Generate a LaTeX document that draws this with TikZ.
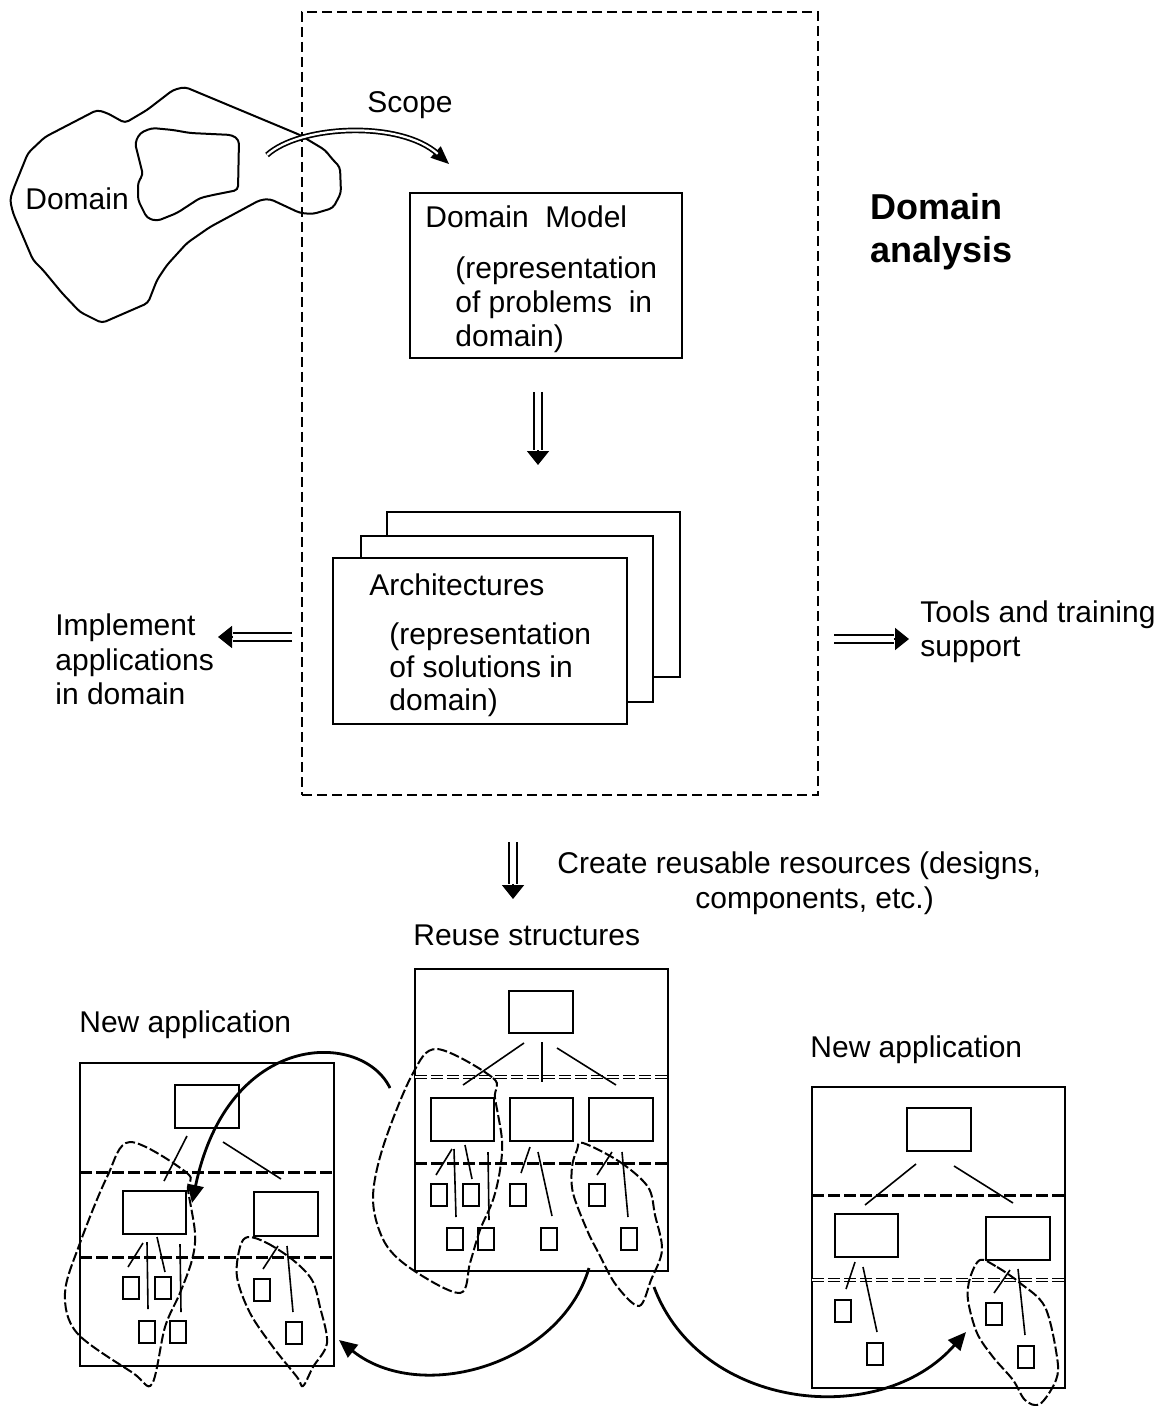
\documentclass[tikz,border=0pt]{standalone}
\usepackage{fontspec}
\setmainfont{Liberation Sans}
\usetikzlibrary{arrows.meta,fit,calc}

% double-shafted arrow: #1 tip options, #2 double distance, #3 path
\newcommand\dblarrow[3]{%
  \draw[line width=0.85pt, -{Triangle[#1]}] #3;
  \draw[line width=0.85pt, double=white, double distance=#2, shorten >=7.6pt] #3;}
% small component square
\newcommand\sqr[3]{\node[sq, fit={(#2,#3) (#2+16,#3+22)}] (#1) {};}

\begin{document}
\begin{tikzpicture}[x=0.5pt, y=-0.5pt,
  txt/.style={anchor=base west, inner sep=0pt, font=\fontsize{15}{17}\selectfont},
  ttl/.style={anchor=base west, inner sep=0pt, font=\fontsize{18}{22}\selectfont\bfseries},
  dabox/.style={draw, inner sep=0pt, line width=1.4pt, dash pattern=on 5pt off 2.5pt},
  modelbox/.style={draw, inner sep=0pt, line width=1pt, fill=white},
  appbox/.style={draw, inner sep=0pt, line width=1pt},
  cell/.style={draw, inner sep=0pt, line width=1pt},
  sq/.style={draw, inner sep=0pt, line width=0.9pt},
  link/.style={line width=0.8pt},
  sepA/.style={line width=1.5pt, dash pattern=on 6pt off 2pt},
  sepB/.style={line width=0.6pt, double=white, double distance=1.1pt, dash pattern=on 6pt off 2pt},
  blob/.style={line width=1pt, dash pattern=on 5pt off 1.5pt},
  reuse/.style={line width=1.4pt, -{Triangle[length=9pt,width=8pt]}}
]
\useasboundingbox (0,0) rectangle (1165,1406);

% ---------- domain analysis frame ----------
\node[dabox, fit={(302,12) (818,795)}] (da) {};
\node[ttl] (da1) at (870,220) {Domain};
\node[ttl] (da2) at (870,263) {analysis};

% ---------- the domain ----------
\draw[line width=1pt, rounded corners=2pt]
  (185,87) -- (300,135) -- (325,150) -- (333,160) -- (340,167) -- (341,193)
  -- (333,208) -- (313,214) -- (300,213) -- (270,199) -- (260,200) -- (210,227)
  -- (187,243) -- (167,265) -- (157,280) -- (148,303) -- (102,323) -- (80,312)
  -- (62,293) -- (43,270) -- (33,260) -- (13,213) -- (10,200) -- (13,190)
  -- (28,153) -- (45,137) -- (97,110) -- (107,113) -- (125,123) -- (147,110)
  -- (160,100) -- (173,90) -- cycle;
\draw[line width=1pt, rounded corners=2pt]
  (152,128) -- (140,133) -- (135,143) -- (143,175) -- (138,182) -- (138,200)
  -- (147,218) -- (157,221) -- (177,213) -- (200,198) -- (213,195) -- (238,190)
  -- (239,140) -- (232,135) -- (190,133) -- (173,130) -- cycle;
\node[txt] (dom) at (25,210) {Domain};

% scope arrow
\coordinate (sc0) at (267,155);
\coordinate (sc1) at (449,164);
\dblarrow{length=9pt,width=7.5pt}{1.1pt}{(sc0) .. controls (300,125) and (400,120) .. (sc1)}
\node[txt] (scope) at (367,113) {Scope};

% ---------- domain model ----------
\node[modelbox, fit={(410,193) (682,358)}] (dm) {};
\node[txt] at (425,228) {Domain\ \ Model};
\node[txt] at (455,279) {(representation};
\node[txt] at (455,313) {of problems\ \ in};
\node[txt] at (455,347) {domain)};

% ---------- architectures ----------
\node[modelbox, fit={(387,512) (680,677)}] (ar3) {};
\node[modelbox, fit={(361,536) (653,702)}] (ar2) {};
\node[modelbox, fit={(333,558) (627,724)}] (ar1) {};
\node[txt] at (369,595) {Architectures};
\node[txt] at (389,644) {(representation};
\node[txt] at (389,677) {of solutions in};
\node[txt] at (389,710) {domain)};

\coordinate (m1) at (538,392);
\coordinate (m2) at (538,465);
\dblarrow{length=7pt,width=11pt}{3.2pt}{(m1) -- (m2)}

% side outputs
\coordinate (l1) at (292,637);
\coordinate (l2) at (218,637);
\dblarrow{length=7pt,width=11pt}{3.2pt}{(l1) -- (l2)}
\node[txt] at (55,635) {Implement};
\node[txt] at (55,670) {applications};
\node[txt] at (55,704) {in domain};

\coordinate (r1) at (834,639);
\coordinate (r2) at (909,639);
\dblarrow{length=7pt,width=11pt}{3.2pt}{(r1) -- (r2)}
\node[txt] at (920,622) {Tools and training};
\node[txt] at (920,656) {support};

% creation of reusable resources
\coordinate (c1) at (513,842);
\coordinate (c2) at (513,899);
\dblarrow{length=7pt,width=11pt}{3.2pt}{(c1) -- (c2)}
\node[txt] at (557,873) {Create reusable resources (designs,};
\node[txt] at (695,908) {components, etc.)};

% ---------- reuse structures ----------
\node[txt] at (413,945) {Reuse structures};
\node[appbox, fit={(415,969) (668,1271)}] (rs) {};
\node[cell, fit={(509,991) (573,1033)}] (rs0) {};
\node[cell, fit={(431,1098) (494,1141)}] (rs1) {};
\node[cell, fit={(510,1098) (573,1141)}] (rs2) {};
\node[cell, fit={(589,1098) (653,1141)}] (rs3) {};
\draw[sepB] (415,1077) -- (668,1077);
\draw[sepA] (415,1163) -- (668,1163);
\draw[link] (524,1043) -- (463,1085);
\draw[link] (542,1042) -- (542,1082);
\draw[link] (557,1048) -- (616,1085);
\sqr{rq1}{431}{1184} \sqr{rq2}{463}{1184} \sqr{rq3}{510}{1184} \sqr{rq4}{589}{1184}
\sqr{rq5}{447}{1228} \sqr{rq6}{478}{1228} \sqr{rq7}{541}{1228} \sqr{rq8}{621}{1228}
\draw[link] (452,1149) -- (436,1175);
\draw[link] (454,1149) -- (456,1217);
\draw[link] (465,1145) -- (472,1179);
\draw[link] (488,1152) -- (489,1220);
\draw[link] (530,1147) -- (521,1173);
\draw[link] (538,1152) -- (552,1216);
\draw[link] (612,1152) -- (597,1175);
\draw[link] (622,1152) -- (628,1217);
\draw[blob] plot[smooth cycle, tension=0.55] coordinates {
  (437,1049) (493,1078) (495,1098) (502,1140) (500,1170) (493,1200) (480,1230)
  (470,1263) (460,1293) (413,1270) (385,1243) (373,1200) (383,1147) (412,1075)};
\draw[blob] plot[smooth cycle, tension=0.55] coordinates {
  (583,1143) (620,1162) (648,1187) (655,1215) (662,1250) (651,1280) (639,1306)
  (616,1285) (598,1252) (587,1230) (573,1193) (572,1167) (577,1150)};

% ---------- new application (left) ----------
\node[txt] at (79,1032) {New application};
\node[appbox, fit={(80,1063) (334,1366)}] (la) {};
\node[cell, fit={(175,1085) (239,1128)}] (la0) {};
\node[cell, fit={(123,1191) (186,1234)}] (la1) {};
\node[cell, fit={(254,1192) (318,1236)}] (la2) {};
\draw[sepA] (80,1172) -- (334,1172);
\draw[sepA] (80,1257) -- (334,1257);
\draw[link] (187,1136) -- (164,1181);
\draw[link] (223,1142) -- (281,1179);
\sqr{lq1}{123}{1277} \sqr{lq2}{155}{1277} \sqr{lq3}{254}{1279}
\sqr{lq4}{139}{1321} \sqr{lq5}{170}{1321} \sqr{lq6}{286}{1322}
\draw[link] (143,1243) -- (128,1267);
\draw[link] (147,1242) -- (148,1309);
\draw[link] (157,1237) -- (165,1272);
\draw[link] (180,1244) -- (181,1312);
\draw[link] (278,1246) -- (263,1269);
\draw[link] (287,1246) -- (293,1312);
\draw[blob] plot[smooth cycle, tension=0.55] coordinates {
  (130,1142) (187,1173) (188,1190) (195,1233) (192,1260) (180,1293) (165,1327)
  (152,1384) (133,1373) (77,1333) (65,1293) (80,1243) (107,1177)};
\draw[blob] plot[smooth cycle, tension=0.55] coordinates {
  (248,1237) (267,1243) (293,1260) (312,1280) (320,1307) (327,1343) (313,1367)
  (303,1386) (297,1377) (273,1347) (250,1313) (237,1277) (240,1247)};

% ---------- new application (right) ----------
\node[txt] at (810,1057) {New application};
\node[appbox, fit={(812,1087) (1065,1388)}] (na) {};
\node[cell, fit={(907,1108) (971,1151)}] (na0) {};
\node[cell, fit={(835,1214) (898,1257)}] (na1) {};
\node[cell, fit={(986,1217) (1050,1260)}] (na2) {};
\draw[sepA] (812,1195) -- (1065,1195);
\draw[sepB] (812,1280) -- (1065,1280);
\draw[link] (916,1164) -- (865,1205);
\draw[link] (954,1166) -- (1013,1203);
\sqr{nq1}{835}{1300} \sqr{nq2}{867}{1343} \sqr{nq3}{986}{1303} \sqr{nq4}{1018}{1346}
\draw[link] (855,1262) -- (846,1289);
\draw[link] (863,1267) -- (877,1332);
\draw[link] (1010,1270) -- (994,1293);
\draw[link] (1018,1269) -- (1025,1335);
\draw[blob] plot[smooth cycle, tension=0.55] coordinates {
  (980,1260) (997,1267) (1020,1283) (1045,1307) (1057,1357) (1056,1380)
  (1040,1404) (1025,1400) (1013,1380) (993,1357) (977,1333) (968,1300) (970,1278)};

% ---------- reuse arrows ----------
\coordinate (u0) at (390,1088);
\coordinate (u1) at (192,1203);
\draw[reuse] (u0) .. controls (362,1030) and (228,1030) .. (u1);
\coordinate (v0) at (589,1268);
\coordinate (v1) at (339,1340);
\draw[reuse] (v0) .. controls (560,1365) and (420,1405) .. (v1);
\coordinate (w0) at (654,1287);
\coordinate (w1) at (966,1332);
\draw[reuse] (w0) .. controls (700,1410) and (880,1430) .. (w1);
\end{tikzpicture}
\end{document}
